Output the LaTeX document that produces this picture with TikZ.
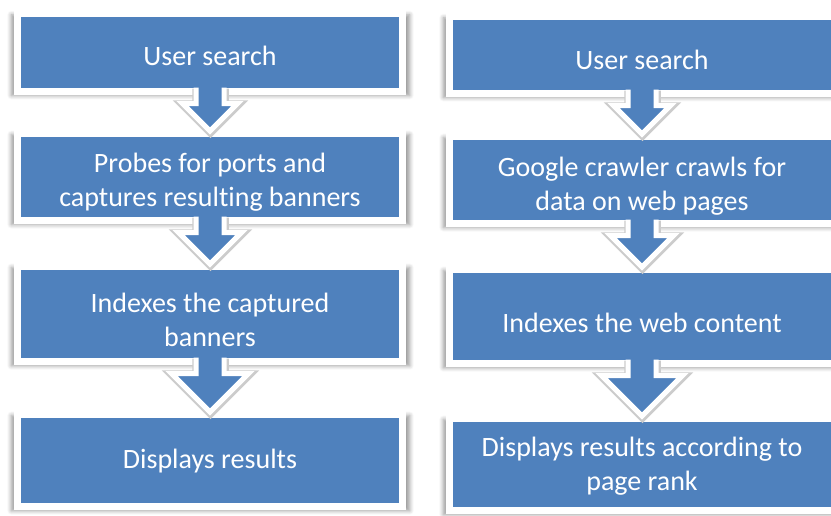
\documentclass[tikz,border=0pt]{standalone}
\usepackage{fontspec}
\setmainfont[Ligatures=NoCommon]{Carlito}
\usepackage{tikz}
\usetikzlibrary{calc, shadows.blur}
\definecolor{boxblue}{HTML}{4F81BD}

\begin{document}
\begin{tikzpicture}[x=1pt, y=-1pt,
    flowbox/.style={rectangle, fill=boxblue, draw=white, line width=7pt,
        outer sep=0pt, inner sep=0pt,
        blur shadow={shadow xshift=0.5pt, shadow yshift=-2.5pt, shadow scale=1.035,
            shadow blur radius=4pt, shadow blur steps=6, shadow opacity=40}},
    lcol/.style={flowbox, minimum width=385pt},
    rcol/.style={flowbox, minimum width=385pt},
    flowtext/.style={text=white, align=center, inner sep=0pt,
        font=\fontsize{28}{34}\selectfont},
    flowarrow/.style={fill=boxblue, draw=white, line width=5pt, line join=miter,
        preaction={draw=black!20, line width=8.5pt,
            transform canvas={shift={(0.5pt,-1pt)}}}}
]
\useasboundingbox (0,0) rectangle (831,515);
\node[lcol, minimum height=78pt] (l1) at (210,52.5) {};
\node[lcol, minimum height=87pt] (l2) at (210,177) {};
\node[lcol, minimum height=95pt] (l3) at (210,314) {};
\node[lcol, minimum height=92pt] (l4) at (210,460.5) {};
\node[rcol, minimum height=77pt] (r1) at (642,55) {};
\node[rcol, minimum height=87pt] (r2) at (642,180) {};
\node[rcol, minimum height=94pt] (r3) at (642,316.5) {};
\node[rcol, minimum height=92pt] (r4) at (642,464.5) {};
\node[flowtext] (l1t) at ($(l1)+(0,3)$) {User search};
\node[flowtext] (l2t) at ($(l2)+(0,5)$) {Probes for ports and\\captures resulting banners};
\node[flowtext] (l3t) at ($(l3)+(0,6)$) {Indexes the captured\\banners};
\node[flowtext] (l4t) at ($(l4)+(0,0.5)$) {Displays results};
\node[flowtext] (r1t) at ($(r1)+(0,5)$) {User search};
\node[flowtext] (r2t) at ($(r2)+(0,6)$) {Google crawler crawls for\\data on web pages};
\node[flowtext] (r3t) at ($(r3)+(0,6)$) {Indexes the web content};
\node[flowtext] (r4t) at ($(r4)+(0,2)$) {Displays results according to\\page rank};
\foreach \a/\b in {l1/l2,l2/l3,l3/l4,r1/r2,r2/r3,r3/r4}
  \filldraw[flowarrow] let \p1=(\a.south), \p2=(\b.north),
      \n1={\y1-12pt}, \n2={\y1-12pt-\y2-2.5pt} in
    ({\x1-14pt},{\y1+4pt}) -- ({\x1-14pt},\n1) -- ({\x1-\n2},\n1)
    -- (\x2,{\y2+2.5pt}) -- ({\x1+\n2},\n1) -- ({\x1+14pt},\n1)
    -- ({\x1+14pt},{\y1+4pt});
\end{tikzpicture}
\end{document}
